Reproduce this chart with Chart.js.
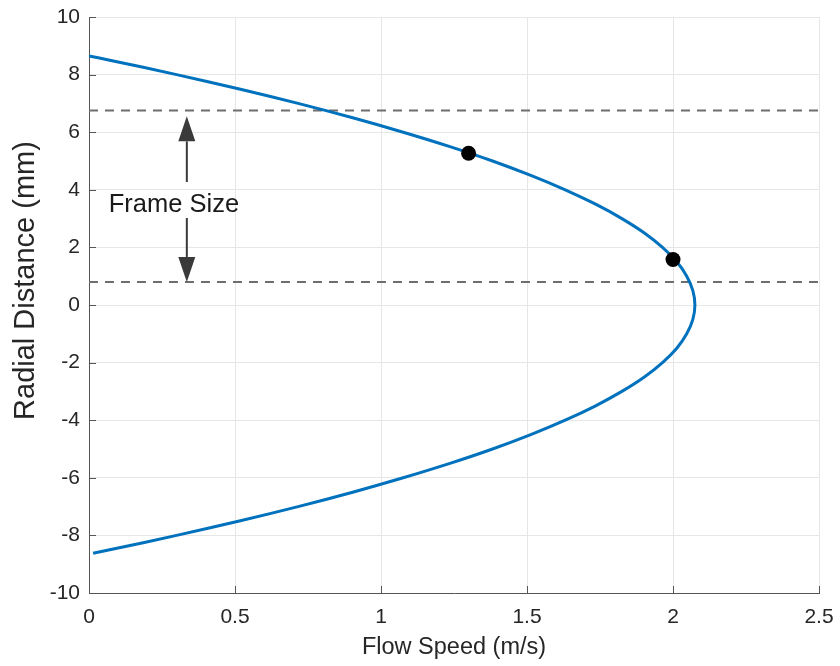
<!DOCTYPE html>
<html><head><meta charset="utf-8">
<script src="https://cdn.jsdelivr.net/npm/chart.js@4"></script>
<style>html,body{margin:0;padding:0;background:#fff}#wrap{width:840px;height:666px;position:relative}</style>
</head><body><div id="wrap"><canvas id="c"></canvas></div>
<script>
// Parabolic velocity profile (radial distance in mm, flow speed in m/s)
const radialDistance = [8.65, 8.5, 8, 7.5, 7, 6.5, 6, 5.5, 5, 4.5, 4, 3.5, 3, 2.5, 2, 1.5, 1, 0.5, 0,
  -0.5, -1, -1.5, -2, -2.5, -3, -3.5, -4, -4.5, -5, -5.5, -6, -6.5, -7, -7.5, -8, -8.5, -8.62];
const flowSpeed = [0, 0.071, 0.300, 0.515, 0.716, 0.903, 1.076, 1.236, 1.382, 1.513, 1.631, 1.735, 1.825, 1.902, 1.964, 2.013, 2.047, 2.068, 2.075,
  2.068, 2.047, 2.013, 1.964, 1.902, 1.825, 1.735, 1.631, 1.513, 1.382, 1.236, 1.076, 0.903, 0.716, 0.515, 0.300, 0.071, 0.014];
const markerSpeed = [1.3, 2.0];
const markerRadial = [5.27, 1.58];
const frameEdges = [6.75, 0.8];
const xTicks = [0, 0.5, 1, 1.5, 2, 2.5];
const yTicks = [-10, -8, -6, -4, -2, 0, 2, 4, 6, 8, 10];
const xTitle = 'Flow Speed (m/s)';
const yTitle = 'Radial Distance (mm)';
const frameLabel = 'Frame Size';
// annotation geometry in data units
const arrowX = 0.335;
const upArrow = [4.27, 6.55];
const downArrow = [3.02, 0.8];
const labelAt = [0.291, 3.47];
const yTitleAt = 0.85; // centre of the rotated y title, in y data units

const FONT = '"Liberation Sans", Arial, sans-serif';
const TXT = '#262626';

const curve = radialDistance.map((r, i) => ({x: flowSpeed[i], y: r}));
const markers = markerSpeed.map((s, i) => ({x: s, y: markerRadial[i]}));
const dashSets = frameEdges.map(y => ({
  data: [{x: xTicks[0], y}, {x: xTicks[xTicks.length - 1], y}],
  showLine: true, borderColor: '#6e6e6e', borderWidth: 2, borderDash: [9, 7],
  pointRadius: 0, order: 3
}));

const annot = {
  id: 'annot',
  afterDraw(chart) {
    const {ctx, scales: {x, y}, chartArea: a} = chart;
    ctx.save();
    // inward tick marks
    ctx.strokeStyle = '#555'; ctx.lineWidth = 1;
    ctx.beginPath();
    xTicks.forEach(v => { const px = Math.round(x.getPixelForValue(v)) + 0.5; ctx.moveTo(px, a.bottom); ctx.lineTo(px, a.bottom - 7); });
    yTicks.forEach(v => { const py = Math.round(y.getPixelForValue(v)) + 0.5; ctx.moveTo(a.left, py); ctx.lineTo(a.left + 7, py); });
    ctx.stroke();
    // arrows
    const ax = x.getPixelForValue(arrowX);
    const drawArrow = (from, to) => {
      const p0 = y.getPixelForValue(from), p1 = y.getPixelForValue(to);
      const dir = Math.sign(p1 - p0), headL = 25, headW = 8.5;
      ctx.strokeStyle = '#3a3a3a'; ctx.fillStyle = '#3a3a3a'; ctx.lineWidth = 2;
      ctx.beginPath(); ctx.moveTo(ax, p0); ctx.lineTo(ax, p1 - dir * headL); ctx.stroke();
      ctx.beginPath(); ctx.moveTo(ax, p1); ctx.lineTo(ax - headW, p1 - dir * headL); ctx.lineTo(ax + headW, p1 - dir * headL); ctx.closePath(); ctx.fill();
    };
    drawArrow(upArrow[0], upArrow[1]);
    drawArrow(downArrow[0], downArrow[1]);
    // label
    ctx.fillStyle = '#1a1a1a';
    ctx.font = '25.5px ' + FONT;
    ctx.textAlign = 'center'; ctx.textBaseline = 'middle';
    ctx.fillText(frameLabel, x.getPixelForValue(labelAt[0]), y.getPixelForValue(labelAt[1]));
    // y axis title
    ctx.fillStyle = TXT;
    ctx.font = '29px ' + FONT;
    ctx.translate(26, y.getPixelForValue(yTitleAt));
    ctx.rotate(-Math.PI / 2);
    ctx.fillText(yTitle, 0, 0);
    ctx.restore();
  }
};

new Chart(document.getElementById('c'), {
  type: 'scatter',
  data: {
    datasets: [
      {data: markers, pointRadius: 7.5, pointBackgroundColor: '#000', pointBorderColor: '#000', pointBorderWidth: 0, showLine: false, order: 1},
      {data: curve, showLine: true, borderColor: '#0072BD', borderWidth: 3, pointRadius: 0, tension: 0.4, order: 2},
      ...dashSets
    ]
  },
  options: {
    responsive: true, maintainAspectRatio: false, animation: false,
    layout: {padding: {left: 0, right: 21, top: 17, bottom: 0}},
    plugins: {legend: {display: false}, tooltip: {enabled: false}},
    scales: {
      x: {
        type: 'linear', min: xTicks[0], max: xTicks[xTicks.length - 1],
        afterBuildTicks: s => { s.ticks = xTicks.map(v => ({value: v})); },
        afterFit: s => { s.height = 73; s.paddingLeft = 0; s.paddingRight = 0; },
        grid: {color: '#e6e6e6', drawTicks: false},
        border: {color: '#555', width: 1},
        ticks: {padding: 12, color: TXT, font: {family: FONT, size: 21}, maxRotation: 0, callback: v => String(v)},
        title: {display: true, text: xTitle, color: TXT, font: {family: FONT, size: 23.5}, padding: {top: 0, bottom: 4}}
      },
      y: {
        type: 'linear', min: yTicks[0], max: yTicks[yTicks.length - 1],
        afterBuildTicks: s => { s.ticks = yTicks.map(v => ({value: v})); },
        afterFit: s => { s.width = 89; s.paddingTop = 0; s.paddingBottom = 0; },
        grid: {color: '#e6e6e6', drawTicks: false},
        border: {color: '#555', width: 1},
        ticks: {padding: 9, color: TXT, font: {family: FONT, size: 21}, callback: v => String(v)},
        title: {display: false}
      }
    }
  },
  plugins: [annot]
});
</script></body></html>
